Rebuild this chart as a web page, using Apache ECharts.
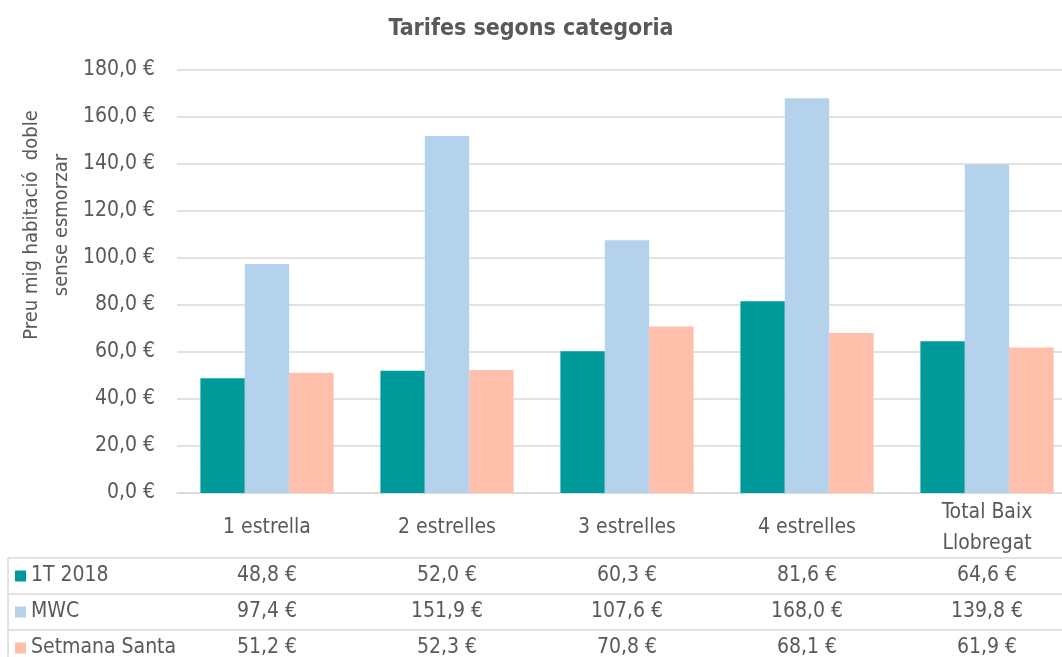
<!DOCTYPE html>
<html>
<head>
<meta charset="utf-8">
<script src="https://cdn.jsdelivr.net/npm/echarts@6/dist/echarts.min.js"></script>
<style>
  html, body { margin: 0; padding: 0; background: #fff; }
  #main { width: 1062px; height: 657px; }
</style>
</head>
<body>
<div id="main"></div>
<script>
// dades
const categories = ['1 estrella', '2 estrelles', '3 estrelles', '4 estrelles', 'Total Baix\nLlobregat'];
const seriesNames = ['1T 2018', 'MWC', 'Setmana Santa'];
const values1T = [48.8, 52.0, 60.3, 81.6, 64.6];
const valuesMWC = [97.4, 151.9, 107.6, 168.0, 139.8];
const valuesSetmana = [51.2, 52.3, 70.8, 68.1, 61.9];
const allValues = [values1T, valuesMWC, valuesSetmana];

const colors = ['#009a9a', '#b4d2eb', '#ffbfab'];
const font = '"Liberation Sans Narrow", "Arial Narrow", "DejaVu Sans Condensed", sans-serif';
const textColor = '#595959';
const lineColor = '#d9d9d9';
const fontSize = 21;

const euro = v => v.toFixed(1).replace('.', ',') + ' €';

let chart = echarts.init(document.getElementById('main'));

// eix principal (categories) + una fila de taula per sèrie
let xAxes = [{
  type: 'category',
  data: categories,
  position: 'bottom',
  axisLine: { lineStyle: { color: lineColor, width: 1.5 } },
  axisTick: { length: 65, lineStyle: { color: lineColor, width: 1.5 } },
  axisLabel: {
    interval: 0, margin: 35, verticalAlign: 'middle',
    fontFamily: font, fontSize: fontSize, color: textColor, lineHeight: 31
  }
}];
allValues.forEach((vals, i) => {
  xAxes.push({
    type: 'category',
    data: vals.map(euro),
    position: 'bottom',
    offset: 65 + i * 36,
    axisLine: { lineStyle: { color: lineColor, width: 1.5 } },
    axisTick: { length: 36, lineStyle: { color: lineColor, width: 1.5 } },
    axisLabel: {
      interval: 0, margin: 18, verticalAlign: 'middle',
      fontFamily: font, fontSize: fontSize, color: textColor
    }
  });
});

// una llegenda per fila de la taula
let legends = seriesNames.map((name, i) => ({
  left: 15,
  top: 565 + i * 36,
  padding: 0,
  itemWidth: 11,
  itemHeight: 11,
  icon: 'rect',
  data: [name],
  textStyle: { fontFamily: font, fontSize: fontSize, color: textColor, lineHeight: 22 }
}));

let option = {
  animation: false,
  backgroundColor: '#fff',
  title: {
    text: 'Tarifes segons categoria',
    left: 'center',
    top: 13,
    textStyle: { fontFamily: font, fontSize: 23, fontWeight: 'bold', color: textColor }
  },
  legend: legends,
  grid: {
    left: 177,
    right: -15,
    top: 70,
    bottom: 164,
    containLabel: false,
    outerBoundsMode: 'none'
  },
  xAxis: xAxes,
  yAxis: {
    type: 'value',
    min: 0,
    max: 180,
    interval: 20,
    axisLine: { show: false },
    axisTick: { show: false },
    splitLine: { lineStyle: { color: lineColor, width: 1.5 } },
    axisLabel: {
      margin: 22,
      fontFamily: font, fontSize: fontSize, color: textColor,
      formatter: v => euro(v)
    }
  },
  series: seriesNames.map((name, i) => ({
    name: name,
    type: 'bar',
    data: allValues[i],
    barGap: 0,
    barCategoryGap: '26%',
    itemStyle: { color: colors[i] }
  })),
  graphic: [
    {
      type: 'text',
      x: 47, y: 225,
      rotation: Math.PI / 2,
      style: {
        text: 'Preu mig habitació  doble\nsense esmorzar',
        fontFamily: font, fontSize: 20, fill: textColor,
        align: 'center', verticalAlign: 'middle', lineHeight: 30
      }
    },
    { type: 'line', shape: { x1: 8, y1: 558, x2: 177, y2: 558 }, style: { stroke: lineColor, lineWidth: 1.5 } },
    { type: 'line', shape: { x1: 8, y1: 594, x2: 177, y2: 594 }, style: { stroke: lineColor, lineWidth: 1.5 } },
    { type: 'line', shape: { x1: 8, y1: 630, x2: 177, y2: 630 }, style: { stroke: lineColor, lineWidth: 1.5 } },
    { type: 'line', shape: { x1: 8, y1: 558, x2: 8, y2: 660 }, style: { stroke: lineColor, lineWidth: 1.5 } }
  ]
};
chart.setOption(option);
</script>
</body>
</html>
